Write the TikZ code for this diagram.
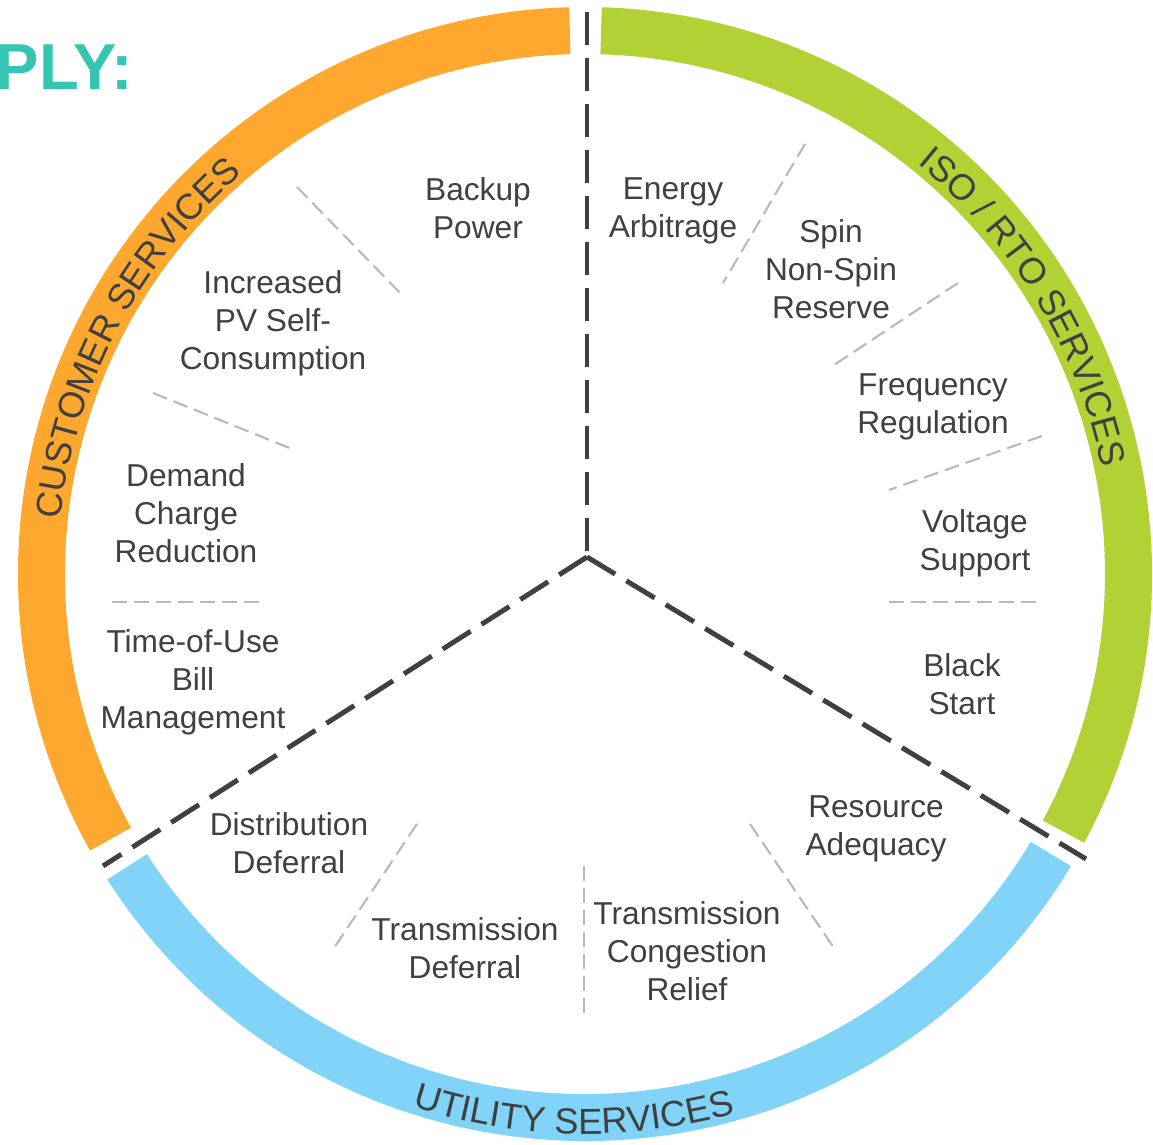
\documentclass[tikz,border=0pt]{standalone}
\usepackage{fontspec}
\setmainfont{Liberation Sans}
\usepackage{tikz}
\usetikzlibrary{decorations.text, positioning}
\usepackage{xcolor}
\definecolor{ringOrange}{RGB}{254,168,47}
\definecolor{ringGreen}{RGB}{178,209,53}
\definecolor{ringBlue}{RGB}{129,212,247}
\definecolor{txtGray}{RGB}{64,64,64}
\definecolor{spokeGray}{RGB}{64,64,64}
\definecolor{sepGray}{RGB}{185,185,185}
\definecolor{titleTeal}{RGB}{52,198,178}
\newcommand{\ringfont}{\fontsize{10.3}{12}\selectfont}

\begin{document}
\begin{tikzpicture}[
  x=0.01cm, y=0.01cm,
  service/.style={align=center, inner sep=0pt, text=txtGray,
                  font=\fontsize{9}{10.8}\selectfont},
  spoke/.style={draw=spokeGray, line width=1.4pt,
                dash pattern=on 0.33cm off 0.13cm},
  divider/.style={draw=sepGray, line width=0.6pt,
                  dash pattern=on 0.15cm off 0.07cm},
  ringtext/.style={decorate, decoration={text along path, text align=center,
                   text color=txtGray, text={|\ringfont|#1}}}
]
  \fill[white] (-585,-571) rectangle (568,574);
  \useasboundingbox (-585,-571) rectangle (568,574);
  \def\rin{520}
  \def\rout{567}

  \foreach \col/\a/\b in {ringGreen/-28.3/88.3, ringOrange/91.6/209.2, ringBlue/212.6/329}
    \fill[\col] (\a:\rout) arc[start angle=\a, end angle=\b, radius=\rout]
      -- (\b:\rin) arc[start angle=\b, end angle=\a, radius=\rin] -- cycle;

  \path[ringtext={CUSTOMER SERVICES}] (192.3:527) arc[start angle=192.3, end angle=112.3, radius=527];
  \path[ringtext={ISO / RTO SERVICES}] (71.3:528) arc[start angle=71.3, end angle=-8.7, radius=528];
  \path[ringtext={UTILITY SERVICES}] (228.8:560) arc[start angle=228.8, end angle=308.8, radius=560];

  \node[anchor=base east, inner sep=0pt, text=titleTeal,
        font=\fontsize{18.5}{20}\selectfont\bfseries]
    (title) at (-451,484) {PLY:};

  \coordinate (hub) at (2,17);
  \coordinate (top) at (2,562);
  \coordinate (lowleft) at (-482,-292);
  \coordinate (lowright) at (501,-285);
  \draw[spoke] (top) -- (hub);
  \draw[spoke] (hub) -- (lowleft);
  \draw[spoke] (hub) -- (lowright);

  \node[service] (backup)     at (-107,366) {Backup\\Power};
  \node[service] (arbitrage)  at (88,363)   {Energy\\Arbitrage};
  \node[service] (reserve)    at (246,305)  {Spin\\Non-Spin\\Reserve};
  \node[service] (freq)       at (348,167)  {Frequency\\Regulation};
  \node[service] (voltage)    at (390,31)   {Voltage\\Support};
  \node[service] (blackstart) at (377,-110) {Black\\Start};
  \node[service] (adequacy)   at (291,-255) {Resource\\Adequacy};
  \node[service] (congestion) at (102,-377) {Transmission\\Congestion\\Relief};
  \node[service] (transdef)   at (-120,-374) {Transmission\\Deferral};
  \node[service] (distdef)    at (-296,-269) {Distribution\\Deferral};
  \node[service] (tou)        at (-392,-108) {Time-of-Use\\Bill\\Management};
  \node[service] (demand)     at (-399,61)  {Demand\\Charge\\Reduction};
  \node[service] (selfcons)   at (-312,251) {Increased\\PV Self-\\Consumption};

  \foreach \p/\q in {{(-288,387)}/{(-181,277)}, {(-432,181)}/{(-293,125)},
                     {(-473,-28)}/{(-320,-28)}, {(220,430)}/{(138,291)},
                     {(373,291)}/{(249,209)}, {(457,138)}/{(304,84)},
                     {(304,-28)}/{(457,-28)}, {(165,-250)}/{(249,-374)},
                     {(-1,-292)}/{(-1,-444)}, {(-168,-250)}/{(-251,-374)}}
    \draw[divider] \p -- \q;
\end{tikzpicture}
\end{document}
